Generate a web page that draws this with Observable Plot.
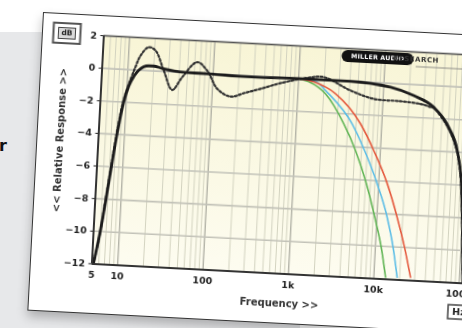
<!DOCTYPE html>
<html><head><meta charset="utf-8">
<script src="https://cdn.jsdelivr.net/npm/d3@7"></script>
<script src="https://cdn.jsdelivr.net/npm/@observablehq/plot@0.6"></script>
<style>
html,body{margin:0;padding:0;background:#fff;}
#page{position:relative;width:462px;height:328px;overflow:hidden;background:#fff;}
#panel{position:absolute;left:0;top:32px;width:300px;height:296px;background:#e7e8ea;}
#cut{position:absolute;left:-1px;top:137px;font:bold 16px "DejaVu Sans",sans-serif;line-height:18px;color:#111;}
#card{position:absolute;left:43px;top:12px;width:480px;height:299px;background:#fff;border:1px solid #333;box-sizing:border-box;transform:rotate(3deg);transform-origin:0 0;box-shadow:0 6px 10px rgba(0,0,0,0.25);filter:blur(0.3px);}
#plotbox{position:absolute;left:-1px;top:-1px;}
</style></head>
<body><div id="page"><div id="panel"></div><div id="cut">r</div><div id="card"><div id="plotbox"></div></div></div>
<script>
// Axis ticks
const xTicks = [5, 10, 100, 1000, 10000, 100000];
const xTickLabels = ["5", "10", "100", "1k", "10k", "100k"];
const yTicks = [2, 0, -2, -4, -6, -8, -10, -12];
const xMajorGrid = [10, 100, 1000, 10000, 100000];
const xMinorGrid = [6, 7, 8, 9, 20, 30, 40, 50, 60, 70, 80, 90, 200, 300, 400, 500, 600, 700, 800, 900,
  2000, 3000, 4000, 5000, 6000, 7000, 8000, 9000, 20000, 30000, 40000, 50000, 60000, 70000, 80000, 90000, 200000];

// Solid black response
const solidFreq = [5.2, 5.98, 6.67, 7.37, 8.18, 9.37, 10.5, 12, 13.4, 17.5, 20, 25, 47, 96, 235, 1000, 4050, 12000, 22600, 39400, 60700, 78900, 91400, 100000, 112000];
const solidDb   = [-12, -10, -8, -6, -4, -2, -1, -0.35, 0, 0.3, 0.3, 0.19, 0.02, 0, -0.05, 0, 0, -0.23, -0.67, -1.32, -2.5, -3.9, -5.7, -8.2, -12.5];

// Dotted black response
const dotFreq = [5.2, 6, 6.6, 7.3, 8.1, 9.2, 10.3, 12.2, 13.8, 17, 20.5, 26.3, 33.9, 43.6, 63.9, 84.5, 114, 164, 240, 364, 618, 1256, 1960, 4100, 7780, 16000, 27500, 35000, 40000, 60700, 78900, 91400, 100000, 112000];
const dotDb   = [-12, -10, -8, -6, -4, -2, -1, 0.17, 0.9, 1.44, 1.26, 0.06, -1.1, -0.29, 0.68, 0.2, -0.89, -1.32, -1.05, -0.75, -0.34, 0.07, 0.17, -0.56, -1.0, -1.06, -1.16, -1.3, -1.4, -2.6, -4.0, -5.8, -8.3, -12.5];

// Red roll-off
const redFreq = [1000, 1500, 2760, 5630, 8340, 12600, 17200, 21900, 26800];
const redDb   = [0, -0.15, -0.81, -2.57, -4.16, -6.16, -8.17, -9.99, -11.8];
// Blue roll-off
const blueFreq = [1000, 1540, 2300, 4500, 6520, 9600, 13150, 16100, 18700];
const blueDb   = [0, -0.1, -0.84, -2.6, -4.19, -6.19, -8.2, -10.02, -11.84];
// Green roll-off
const greenFreq = [1000, 1300, 2110, 3590, 5110, 7190, 9420, 11700, 13700];
const greenDb   = [0, -0.15, -0.85, -2.62, -4.22, -6.23, -8.24, -10.06, -11.88];

const toRows = (f, d) => f.map((v, i) => ({f: v, db: d[i]}));

const chart = Plot.plot({
  width: 478, height: 297,
  marginLeft: 61.5, marginRight: 23, marginTop: 20, marginBottom: 48.6,
  x: {type: "log", domain: [5, 200000], axis: null},
  y: {domain: [-12, 2], ticks: yTicks, tickSize: 3, tickPadding: 4, label: null},
  style: {fontFamily: "DejaVu Sans, sans-serif", fontSize: "9.5px", fontWeight: "bold", color: "#222", background: "transparent", overflow: "visible"},
  marks: [
    Plot.frame({fill: "url(#bgGrad)", stroke: "none"}),
    Plot.ruleX(xMinorGrid, {stroke: "#d3d3c0", strokeWidth: 1}),
    Plot.ruleX(xMajorGrid, {stroke: "#adada2", strokeWidth: 1.3}),
    Plot.ruleY(yTicks, {stroke: "#c2c2b8", strokeWidth: 1.7}),
    Plot.ruleY([2], {stroke: "#555", strokeWidth: 1.4}),
    Plot.line(toRows(greenFreq, greenDb), {x: "f", y: "db", stroke: "#62b556", strokeWidth: 1.6, curve: "monotone-x", clip: true}),
    Plot.line(toRows(blueFreq, blueDb), {x: "f", y: "db", stroke: "#5cbde6", strokeWidth: 1.6, curve: "monotone-x", clip: true}),
    Plot.line(toRows(redFreq, redDb), {x: "f", y: "db", stroke: "#e4583c", strokeWidth: 1.6, curve: "monotone-x", clip: true}),
    Plot.line(toRows(dotFreq, dotDb), {x: "f", y: "db", stroke: "#333", strokeWidth: 2.2, strokeDasharray: "2,2.2", curve: "catmull-rom", clip: true}),
    Plot.line(toRows(solidFreq, solidDb), {x: "f", y: "db", stroke: "#1c1c1c", strokeWidth: 2.8, curve: "monotone-x", clip: true}),
    Plot.ruleY([-12], {stroke: "#333", strokeWidth: 2}),
    Plot.ruleX([5], {stroke: "#333", strokeWidth: 2}),
    Plot.text(xTicks, {x: d => d, text: (d, i) => xTickLabels[i], frameAnchor: "bottom", lineAnchor: "top", dy: 7, fill: "#222", fontSize: 9.5, fontWeight: "bold"})
  ]
});
document.getElementById("plotbox").appendChild(chart);

const svg = d3.select(chart);
const defs = svg.insert("defs", ":first-child");
const grad = defs.append("linearGradient").attr("id", "bgGrad").attr("x1", 0).attr("y1", 0).attr("x2", 0).attr("y2", 1);
grad.append("stop").attr("offset", "0%").attr("stop-color", "#f8f5d6");
grad.append("stop").attr("offset", "100%").attr("stop-color", "#fdfcf0");

const deco = svg.append("g").attr("font-family", "DejaVu Sans, sans-serif").attr("font-weight", "bold");
// dB box
deco.append("rect").attr("x", 11.5).attr("y", 10).attr("width", 27).attr("height", 20).attr("fill", "#fff").attr("stroke", "#555").attr("stroke-width", 2);
deco.append("rect").attr("x", 16.5).attr("y", 14.5).attr("width", 17).attr("height", 11).attr("fill", "#d9d9d9").attr("stroke", "#444").attr("stroke-width", 1);
deco.append("text").attr("x", 25).attr("y", 20).attr("text-anchor", "middle").attr("dominant-baseline", "middle").attr("font-size", 7.5).attr("fill", "#222").text("dB");
// axis labels
deco.append("text").attr("transform", "translate(24,127) rotate(-90)").attr("text-anchor", "middle").attr("dominant-baseline", "middle").attr("font-size", 10).attr("fill", "#333").text("<< Relative Response >>");
deco.append("text").attr("x", 251).attr("y", 279).attr("text-anchor", "middle").attr("dominant-baseline", "middle").attr("font-size", 10).attr("fill", "#333").text("Frequency >>");
// Hz box
deco.append("rect").attr("x", 420).attr("y", 271).attr("width", 22).attr("height", 14).attr("fill", "#fff").attr("stroke", "#444").attr("stroke-width", 1.5);
deco.append("text").attr("x", 431).attr("y", 278.5).attr("text-anchor", "middle").attr("dominant-baseline", "middle").attr("font-size", 9.5).attr("fill", "#222").text("Hz");
// logo
deco.append("rect").attr("x", 300.5).attr("y", 22).attr("width", 72).attr("height", 12).attr("rx", 6).attr("fill", "#111");
deco.append("text").attr("x", 336.5).attr("y", 28.3).attr("text-anchor", "middle").attr("dominant-baseline", "middle").attr("font-size", 6.3).attr("fill", "#fff").attr("letter-spacing", 0.2).text("MILLER AUDIO");
deco.append("text").attr("x", 375).attr("y", 28.3).attr("dominant-baseline", "middle").attr("font-size", 7).attr("fill", "#333").attr("letter-spacing", 0.5).text("RESEARCH");
deco.append("line").attr("x1", 375).attr("x2", 478).attr("y1", 35).attr("y2", 35).attr("stroke", "#777").attr("stroke-width", 0.8);
</script></body></html>
